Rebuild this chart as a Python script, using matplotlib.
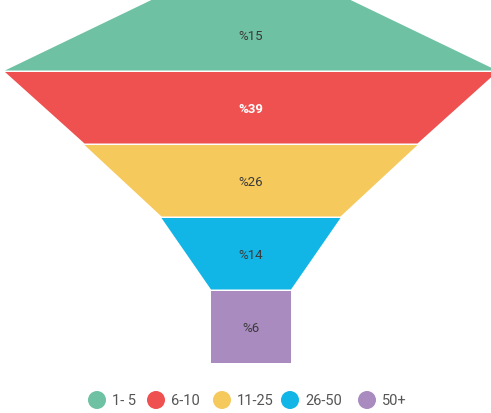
import matplotlib
matplotlib.use("Agg")
import matplotlib.pyplot as plt
from matplotlib.patches import Polygon, Circle

# Data
categories = ["1- 5", "6-10", "11-25", "26-50", "50+"]
values = [15, 39, 26, 14, 6]
labels = ["%15", "%39", "%26", "%14", "%6"]

# Style / layout
colors = ["#6FC1A3", "#EE5150", "#F6C95D", "#11B6E6", "#A98BC0"]
text_colors = ["#3a3a3a", "#ffffff", "#3a3a3a", "#3a3a3a", "#3a3a3a"]
text_weights = ["normal", "bold", "normal", "normal", "normal"]
top_widths = [195, 492, 333, 179, 80]
bot_widths = [492, 333, 179, 80, 80]
cx = 251
seg_h = 71.5
gap = 1.5
y0 = 0

plt.rcParams['font.family'] = ['Roboto', 'DejaVu Sans']
fig = plt.figure(figsize=(4.91, 4.14), dpi=100)
ax = fig.add_axes([0, 0, 1, 1])
ax.set_xlim(0, 491)
ax.set_ylim(414, 0)
ax.axis('off')

y = y0
for i in range(len(values)):
    wt, wb = top_widths[i], bot_widths[i]
    yt, yb = y, y + seg_h
    poly = Polygon([(cx - wt / 2, yt), (cx + wt / 2, yt),
                    (cx + wb / 2, yb), (cx - wb / 2, yb)],
                   closed=True, facecolor=colors[i], edgecolor='none')
    ax.add_patch(poly)
    ax.text(cx, (yt + yb) / 2 + 1, labels[i], ha='center', va='center',
            fontsize=9.5, color=text_colors[i], weight=text_weights[i])
    y = yb + gap

# Legend
leg_y = 401
circle_x = [97, 156, 222, 290, 367]
for i, cat in enumerate(categories):
    ax.add_patch(Circle((circle_x[i], leg_y), 9, facecolor=colors[i], edgecolor='none'))
    ax.text(circle_x[i] + 15, leg_y + 0.5, cat, ha='left', va='center',
            fontsize=10.5, color='#555555')

fig.savefig("out.png", dpi=100)
